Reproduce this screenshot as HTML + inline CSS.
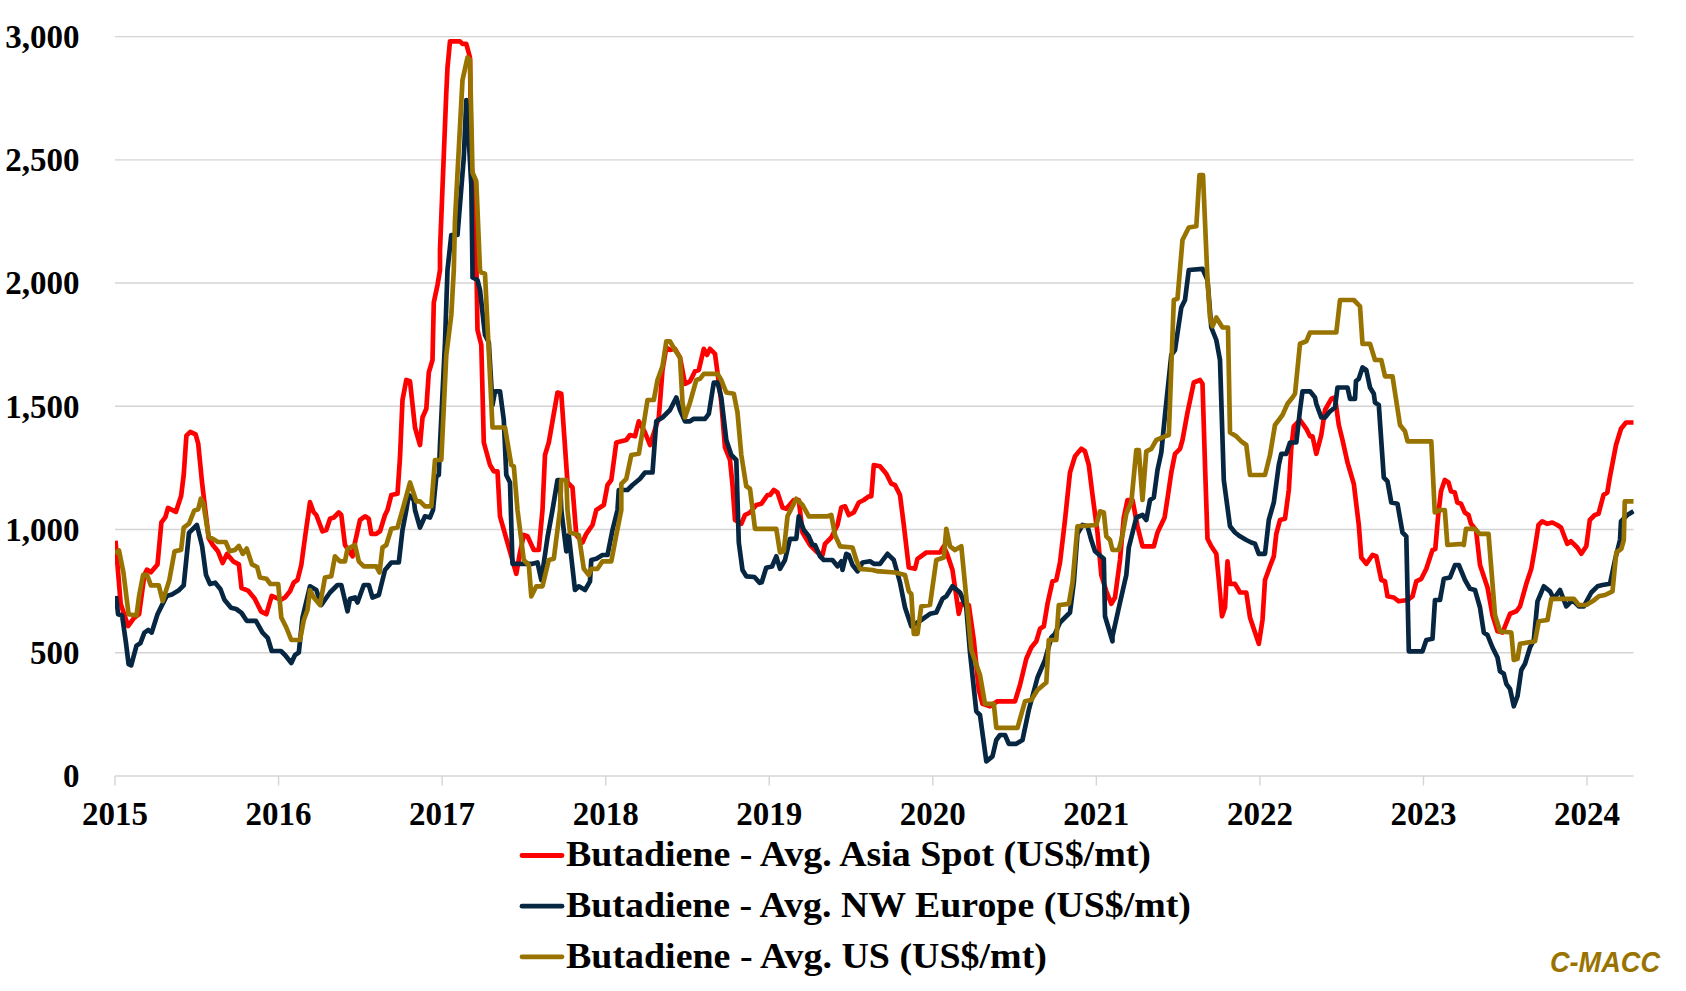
<!DOCTYPE html>
<html><head><meta charset="utf-8"><style>
html,body{margin:0;padding:0;background:#fff;width:1686px;height:991px;overflow:hidden}
svg{display:block}
.t{font-family:"Liberation Serif",serif;font-weight:bold;fill:#000}
</style></head><body>
<svg width="1686" height="991" viewBox="0 0 1686 991">
<rect width="1686" height="991" fill="#fff"/>
<g stroke="#D4D4D4" stroke-width="1.4" fill="none"><line x1="115" x2="1633.5" y1="652.77" y2="652.77"/><line x1="115" x2="1633.5" y1="529.53" y2="529.53"/><line x1="115" x2="1633.5" y1="406.30" y2="406.30"/><line x1="115" x2="1633.5" y1="283.07" y2="283.07"/><line x1="115" x2="1633.5" y1="159.83" y2="159.83"/><line x1="115" x2="1633.5" y1="36.60" y2="36.60"/><line x1="115" x2="1633.5" y1="776" y2="776"/><line x1="115.00" x2="115.00" y1="776" y2="785.5"/><line x1="278.56" x2="278.56" y1="776" y2="785.5"/><line x1="442.12" x2="442.12" y1="776" y2="785.5"/><line x1="605.68" x2="605.68" y1="776" y2="785.5"/><line x1="769.24" x2="769.24" y1="776" y2="785.5"/><line x1="932.80" x2="932.80" y1="776" y2="785.5"/><line x1="1096.36" x2="1096.36" y1="776" y2="785.5"/><line x1="1259.92" x2="1259.92" y1="776" y2="785.5"/><line x1="1423.48" x2="1423.48" y1="776" y2="785.5"/><line x1="1587.04" x2="1587.04" y1="776" y2="785.5"/></g>
<g class="t" font-size="33"><text x="79.5" y="787.20" text-anchor="end">0</text><text x="79.5" y="663.97" text-anchor="end">500</text><text x="79.5" y="540.73" text-anchor="end">1,000</text><text x="79.5" y="417.50" text-anchor="end">1,500</text><text x="79.5" y="294.27" text-anchor="end">2,000</text><text x="79.5" y="171.03" text-anchor="end">2,500</text><text x="79.5" y="47.80" text-anchor="end">3,000</text><text x="115.00" y="824.6" text-anchor="middle">2015</text><text x="278.56" y="824.6" text-anchor="middle">2016</text><text x="442.12" y="824.6" text-anchor="middle">2017</text><text x="605.68" y="824.6" text-anchor="middle">2018</text><text x="769.24" y="824.6" text-anchor="middle">2019</text><text x="932.80" y="824.6" text-anchor="middle">2020</text><text x="1096.36" y="824.6" text-anchor="middle">2021</text><text x="1259.92" y="824.6" text-anchor="middle">2022</text><text x="1423.48" y="824.6" text-anchor="middle">2023</text><text x="1587.04" y="824.6" text-anchor="middle">2024</text></g>
<defs><clipPath id="pc"><rect x="115" y="0" width="1519.5" height="800"/></clipPath></defs>
<g fill="none" stroke-width="4.7" stroke-linejoin="round" stroke-linecap="butt" clip-path="url(#pc)">
<polyline stroke="#FF0000" points="115.5,540.7 120.7,603.7 128.1,626.0 133.9,618.2 139.1,614.2 144.4,574.9 147.0,569.6 150.9,572.2 157.5,564.4 161.4,522.4 165.4,517.1 168.0,507.9 175.9,511.9 181.1,496.1 183.7,475.1 186.4,435.7 190.3,431.8 195.6,434.4 198.2,443.6 202.1,483.0 208.7,538.1 212.6,544.7 217.9,551.2 222.6,563.0 227.0,553.9 233.6,561.7 238.9,564.4 241.5,588.0 248.0,590.6 254.6,598.5 261.2,611.6 266.4,614.2 271.7,595.9 280.9,599.8 285.0,597.5 290.0,591.3 293.8,582.5 297.5,580.0 301.3,565.0 305.0,537.5 310.0,502.2 313.5,512.0 316.3,515.0 322.5,531.3 326.3,530.0 330.0,518.8 333.8,517.5 338.8,512.5 341.3,515.0 345.0,545.0 352.5,556.3 355.0,542.5 360.0,520.0 365.0,516.3 368.8,518.8 371.3,533.8 376.3,533.8 380.0,531.3 385.0,515.0 387.5,510.0 391.3,495.0 397.5,493.8 400.0,457.5 402.5,400.0 406.3,380.0 410.0,381.3 415.0,427.5 420.0,445.0 422.5,417.5 426.3,408.8 428.8,372.5 432.5,360.0 433.8,302.5 437.5,285.0 440.0,270.0 440.0,250.0 443.8,155.0 446.3,92.5 447.5,67.5 450.0,41.3 460.0,41.3 462.5,43.8 466.3,43.8 470.0,57.5 471.3,165.0 473.8,185.0 476.3,257.5 477.5,330.0 481.3,345.0 483.8,442.5 490.0,465.0 493.8,471.3 497.5,471.3 500.0,516.3 516.3,573.8 520.0,552.5 523.8,535.0 527.5,536.3 533.8,550.0 538.8,550.0 542.5,510.0 545.0,455.0 548.8,442.5 557.5,392.5 561.3,393.8 567.5,482.5 572.5,487.5 576.3,535.0 582.5,542.5 586.3,533.8 592.5,525.0 596.3,510.0 603.8,505.0 607.5,485.0 611.3,480.0 616.3,442.5 621.3,441.3 626.3,440.0 630.0,435.0 635.0,436.3 638.8,421.3 645.0,432.5 650.0,445.0 658.8,417.5 662.5,370.0 666.3,347.5 670.0,350.0 675.0,348.8 680.0,357.5 685.0,383.8 690.0,381.3 695.0,371.3 698.8,370.0 703.8,348.8 707.0,355.0 710.0,348.8 715.0,353.8 718.8,382.5 721.3,402.5 725.0,447.5 730.0,460.0 732.5,485.0 735.0,520.0 741.3,523.8 745.0,515.0 750.0,512.5 756.3,505.0 761.3,503.8 767.5,495.0 770.0,495.0 773.8,490.0 777.5,492.5 782.5,507.5 786.3,508.8 793.8,500.0 798.8,500.0 802.5,532.5 810.0,545.0 817.5,552.5 822.5,555.0 825.0,543.8 831.3,537.5 837.5,525.0 841.3,507.5 845.0,506.3 848.8,515.0 853.8,512.5 858.8,502.5 863.8,500.0 868.8,496.3 871.3,496.3 873.8,465.0 880.0,466.3 886.3,473.8 891.3,483.8 895.0,485.0 900.0,495.0 903.8,525.0 908.8,567.5 915.0,568.8 917.5,558.8 926.3,552.5 940.0,552.5 943.8,546.3 947.5,555.0 952.5,570.0 955.0,587.5 958.8,613.8 961.3,603.8 968.8,605.0 973.8,640.0 978.8,690.0 982.5,703.8 990.0,706.3 997.5,701.3 1015.0,701.3 1020.0,685.0 1026.3,658.8 1031.3,647.5 1036.3,641.3 1040.0,628.8 1043.8,626.3 1047.5,603.8 1052.5,581.3 1056.3,580.0 1060.0,562.5 1065.0,520.0 1070.0,472.5 1075.0,456.3 1081.3,448.8 1085.0,451.3 1088.8,465.0 1092.5,495.0 1097.5,532.5 1101.3,575.0 1106.3,591.3 1111.3,603.8 1115.0,597.5 1120.0,560.0 1123.8,517.5 1127.5,500.0 1132.5,500.0 1137.5,526.3 1142.5,546.3 1153.8,546.3 1157.5,532.5 1164.6,517.5 1167.4,499.2 1171.3,472.5 1175.0,453.8 1180.0,448.8 1182.5,440.0 1187.5,412.5 1193.8,382.5 1200.0,380.0 1202.5,383.8 1205.0,465.0 1207.5,538.8 1211.3,546.3 1216.3,553.8 1218.8,580.0 1222.0,616.3 1225.0,607.5 1227.5,561.3 1230.0,583.8 1235.0,583.8 1240.0,592.5 1246.3,592.5 1250.0,617.5 1258.8,643.8 1262.5,620.0 1265.0,580.0 1270.0,566.3 1273.8,556.3 1276.3,533.8 1280.0,520.0 1285.0,518.8 1288.8,490.0 1291.3,447.5 1293.8,426.3 1300.0,420.0 1306.3,428.8 1310.0,436.3 1312.5,436.3 1316.3,453.8 1321.3,435.0 1325.0,410.0 1331.3,398.8 1335.0,397.5 1338.8,425.0 1342.5,440.0 1347.5,462.5 1353.8,483.8 1358.8,525.0 1361.3,557.5 1366.3,563.8 1372.5,555.0 1376.3,556.3 1381.3,580.0 1385.0,581.3 1387.5,596.3 1393.8,597.5 1398.8,601.3 1407.5,600.0 1412.5,596.3 1416.3,581.3 1421.3,578.8 1426.3,568.8 1430.0,557.5 1432.5,550.0 1435.3,549.0 1438.2,515.3 1441.0,491.3 1444.8,480.0 1448.5,482.5 1451.0,491.3 1454.8,492.5 1457.3,502.5 1461.0,503.8 1464.8,512.5 1468.5,515.0 1471.0,523.8 1476.0,530.0 1480.0,565.0 1487.5,587.5 1492.5,615.0 1497.5,631.3 1502.5,632.5 1510.0,613.8 1516.3,611.3 1520.0,606.3 1526.3,583.8 1531.3,568.8 1535.0,547.5 1538.5,525.0 1542.3,521.3 1547.3,523.8 1552.3,522.5 1557.3,525.0 1561.0,527.5 1564.8,537.5 1567.3,543.8 1571.0,541.3 1577.3,547.5 1581.3,553.8 1586.3,546.3 1589.8,520.0 1594.8,515.0 1598.5,513.8 1603.5,495.0 1607.3,492.5 1609.8,477.5 1616.0,445.0 1621.0,428.8 1626.0,422.5 1633.5,422.5"/>
<polyline stroke="#062641" points="116.0,595.9 118.1,614.2 122.1,615.5 126.0,643.1 128.6,664.1 131.2,665.4 136.5,645.7 140.4,643.1 144.4,632.6 148.3,630.0 151.7,632.6 157.5,614.2 161.4,606.4 166.7,595.9 171.9,594.5 178.5,590.6 183.7,585.4 189.0,532.9 196.9,525.0 202.1,546.0 206.0,574.9 210.0,584.0 215.2,582.7 220.5,589.3 224.4,599.8 231.0,607.7 236.2,609.0 241.5,612.9 246.7,620.8 255.9,620.8 262.5,632.6 267.7,637.8 271.7,651.0 280.9,651.0 285.0,655.0 291.3,663.0 295.0,655.0 298.8,652.5 302.5,617.5 310.0,586.3 316.3,590.0 321.3,605.0 330.0,592.5 337.5,585.0 341.3,585.0 347.5,611.3 350.0,598.8 355.0,597.5 357.5,602.5 363.8,585.0 368.8,585.0 372.5,597.5 378.8,595.0 385.0,570.0 391.3,562.5 398.8,562.5 402.5,530.0 406.3,510.0 408.8,495.0 413.8,500.0 415.0,510.0 420.0,527.5 425.0,516.3 430.0,517.5 433.0,510.0 436.3,476.3 438.8,475.0 440.0,445.0 445.0,342.5 447.5,270.0 451.3,235.0 457.5,235.0 463.8,157.5 466.3,100.0 468.8,140.0 471.3,185.0 472.5,270.0 472.5,277.5 477.5,280.0 480.0,290.0 485.0,335.0 488.8,342.5 492.5,405.0 495.0,391.3 500.0,391.3 503.8,420.0 506.3,475.0 510.0,482.5 512.5,563.8 522.5,563.8 532.5,563.8 537.5,562.5 541.3,580.0 547.5,537.5 552.5,510.0 557.5,480.0 560.0,480.0 561.3,510.0 566.3,551.3 568.8,535.0 575.0,590.0 578.8,586.3 585.0,590.0 590.0,581.3 591.3,560.0 596.3,558.8 602.5,555.0 607.5,555.0 612.5,530.0 617.5,510.0 618.8,490.0 627.5,490.0 632.5,485.0 640.0,478.8 645.0,472.5 652.5,472.5 656.3,421.3 662.5,417.5 670.0,410.0 676.3,397.5 680.0,410.0 685.0,421.3 690.0,421.3 693.8,418.8 705.0,418.8 708.8,413.8 713.8,382.5 717.5,382.5 721.3,397.5 726.3,440.0 731.3,455.0 736.3,460.0 738.8,542.5 742.5,570.0 746.3,576.3 754.4,577.0 759.7,582.9 761.7,582.2 766.2,567.8 772.0,566.5 776.3,556.3 780.0,568.8 785.0,560.0 790.0,538.8 796.3,538.8 798.8,516.3 803.8,530.0 808.8,536.3 812.5,545.0 815.0,545.0 820.0,556.3 823.8,560.0 832.5,560.0 837.5,566.3 841.3,561.3 842.5,570.0 846.3,553.8 848.8,555.0 852.5,565.0 857.5,571.3 862.5,562.5 870.0,561.3 873.8,563.8 880.0,563.8 887.5,553.8 893.8,560.0 900.0,582.5 905.0,607.5 911.3,626.3 921.3,620.0 930.0,613.8 936.3,612.5 942.5,598.8 946.3,596.3 952.5,586.3 960.0,592.5 966.3,607.5 970.0,652.5 976.3,711.3 980.0,715.0 986.3,761.3 992.5,756.3 996.3,740.0 1000.0,735.0 1005.0,735.0 1008.8,743.8 1016.3,743.8 1022.5,740.0 1028.8,710.0 1037.5,677.5 1045.0,660.0 1051.3,637.5 1055.0,633.8 1060.0,622.5 1070.0,612.5 1073.8,582.5 1077.5,533.8 1082.5,525.0 1087.5,526.3 1091.3,540.0 1095.0,551.3 1103.8,558.8 1105.0,616.3 1112.5,641.3 1112.5,636.3 1120.0,602.5 1126.3,575.0 1128.8,547.5 1136.3,517.5 1142.5,515.0 1146.3,520.0 1150.0,500.0 1153.8,497.5 1157.5,470.0 1161.3,452.5 1165.0,415.0 1171.3,355.0 1175.0,350.0 1181.3,307.5 1185.0,300.0 1188.8,270.0 1202.5,268.8 1207.5,280.0 1211.3,327.5 1216.3,340.0 1220.0,360.0 1223.8,480.0 1230.0,526.3 1235.0,532.5 1240.0,536.3 1246.3,540.0 1251.3,542.5 1255.0,543.8 1258.8,553.8 1265.0,553.8 1268.8,520.0 1273.8,502.5 1278.8,465.0 1281.3,453.8 1286.3,453.8 1290.0,442.5 1296.3,442.5 1300.0,410.0 1302.5,391.3 1310.0,391.3 1315.0,397.5 1316.3,403.8 1321.3,417.5 1325.0,417.5 1330.0,411.3 1335.0,407.5 1337.5,387.5 1347.5,387.5 1350.0,398.8 1355.0,398.8 1356.0,381.0 1358.8,378.8 1362.5,367.5 1366.3,370.0 1370.0,387.5 1373.8,393.8 1375.0,402.5 1378.8,405.0 1383.8,477.5 1387.5,481.3 1391.3,502.5 1397.5,503.8 1402.5,532.5 1406.3,536.3 1408.8,651.3 1422.5,651.3 1426.3,640.0 1432.5,638.8 1435.0,600.0 1440.0,600.0 1443.8,578.8 1450.0,577.5 1455.0,565.0 1458.8,565.0 1465.0,580.0 1470.0,588.8 1475.0,590.0 1480.0,607.5 1483.8,632.5 1487.5,635.0 1492.5,647.5 1497.5,657.5 1500.0,671.3 1503.8,673.8 1506.3,683.8 1510.0,688.8 1513.8,706.3 1517.5,696.3 1521.3,670.0 1525.0,663.8 1530.0,647.5 1533.8,640.0 1537.5,601.3 1543.8,586.3 1550.0,591.3 1553.8,598.8 1560.0,590.0 1566.3,606.3 1572.5,600.0 1578.8,606.3 1583.8,606.3 1591.3,592.5 1597.5,586.3 1602.5,585.0 1610.0,583.8 1615.0,560.0 1620.0,540.0 1621.0,521.3 1627.3,515.0 1633.5,511.3"/>
<polyline stroke="#997300" points="115.0,553.0 119.0,550.5 123.4,572.2 128.6,614.2 136.5,615.5 139.1,595.9 143.1,574.9 147.0,574.9 150.9,585.4 158.8,585.4 162.7,601.1 169.3,580.1 174.6,551.2 181.1,549.9 183.7,527.6 189.0,523.7 194.2,510.6 198.2,509.2 200.8,498.7 203.4,504.0 208.7,536.8 213.9,539.4 217.9,542.0 225.7,542.0 229.7,551.2 235.0,549.9 238.9,546.0 242.8,553.9 246.7,548.6 252.0,564.4 257.2,567.0 259.9,577.5 266.4,578.8 270.4,584.0 278.2,584.0 281.3,617.5 286.3,627.5 291.3,640.0 300.0,640.0 303.8,620.0 307.5,610.0 310.0,590.0 313.8,597.5 320.0,605.0 325.0,577.5 331.3,576.3 335.0,556.3 340.0,561.3 345.0,561.3 347.5,548.8 355.0,545.0 358.8,561.3 363.8,566.3 376.3,566.3 379.5,572.5 382.5,547.5 386.3,545.0 391.3,528.8 397.5,527.5 402.5,510.0 410.0,482.5 416.3,501.3 420.0,501.3 425.0,506.3 431.3,506.3 435.0,460.0 441.3,460.0 446.3,355.0 451.3,315.0 453.8,270.0 455.0,220.0 462.5,80.0 467.5,57.5 470.0,60.0 472.5,172.5 476.3,181.3 480.0,270.0 481.3,272.5 485.0,273.8 492.5,427.5 505.0,427.5 511.3,465.0 513.8,466.3 517.5,510.0 523.8,560.0 528.8,565.0 531.3,596.3 536.3,586.3 542.5,586.3 548.8,560.0 553.8,558.8 560.0,510.0 561.3,480.0 566.3,480.0 567.5,510.0 570.0,532.5 578.8,535.0 583.8,568.8 588.8,575.0 591.3,568.8 597.5,568.8 602.5,561.3 611.3,561.3 616.3,535.0 621.3,510.0 621.3,483.8 626.3,478.8 631.3,455.0 638.8,453.8 642.5,431.3 647.5,400.0 653.8,400.0 657.5,380.0 662.5,366.3 666.3,341.3 670.0,341.3 675.0,350.0 680.0,357.5 682.5,402.5 685.0,417.5 690.0,402.5 696.3,380.0 700.0,378.8 703.8,373.8 717.5,373.8 721.3,380.0 726.3,392.5 733.8,393.8 737.5,412.5 741.3,455.0 746.3,486.3 750.0,488.8 755.0,528.8 776.3,528.8 780.0,552.5 783.8,551.3 787.5,516.3 796.3,498.8 802.5,505.0 808.8,516.3 827.5,516.3 831.3,515.0 835.0,535.0 840.0,546.3 852.5,547.5 856.3,560.0 860.0,568.8 872.5,570.0 877.5,571.3 880.0,571.3 895.0,572.5 905.0,575.0 908.8,591.3 911.3,593.8 913.8,633.8 917.5,633.8 921.3,606.3 930.0,605.0 936.3,560.0 943.8,557.5 946.3,528.8 950.0,546.3 955.0,550.0 961.3,546.3 966.3,597.5 971.3,650.0 980.0,675.0 985.0,703.8 993.8,703.8 996.3,727.8 1017.5,727.8 1025.0,701.3 1031.3,700.0 1037.5,690.0 1046.3,682.5 1048.8,640.0 1056.3,640.0 1058.8,605.0 1060.0,605.0 1068.8,603.8 1072.5,582.5 1077.5,526.3 1096.3,525.0 1100.0,511.3 1103.8,512.5 1106.3,536.3 1110.0,540.0 1112.5,550.0 1118.8,550.0 1122.5,535.0 1126.3,513.8 1131.3,502.5 1136.3,450.0 1138.8,450.0 1142.5,500.0 1146.3,451.3 1151.3,448.8 1156.3,440.0 1165.0,436.3 1168.8,435.0 1173.8,300.0 1177.5,298.8 1182.5,240.0 1188.8,227.5 1196.3,226.3 1199.5,175.0 1203.0,175.0 1207.5,280.0 1210.0,317.5 1212.5,326.3 1216.3,317.5 1222.5,327.5 1228.0,327.5 1230.0,432.5 1236.3,436.3 1241.3,441.3 1246.3,445.0 1250.0,475.0 1265.0,475.0 1270.0,455.0 1275.0,425.0 1278.8,420.0 1282.5,415.0 1287.5,403.8 1292.5,397.5 1295.0,393.8 1300.0,343.8 1306.3,341.3 1310.0,332.5 1336.3,332.5 1340.0,300.0 1353.8,300.0 1360.0,306.3 1362.5,343.8 1370.0,343.8 1375.0,360.0 1381.3,360.0 1385.0,376.3 1392.5,376.3 1400.0,425.0 1405.0,431.3 1407.5,441.3 1431.3,441.3 1434.8,512.5 1439.8,510.0 1444.8,510.0 1447.3,543.8 1447.5,545.0 1462.3,543.8 1463.8,545.0 1466.0,528.8 1474.8,528.8 1479.8,533.8 1488.5,533.8 1495.0,615.0 1500.0,631.3 1511.3,632.5 1513.8,660.0 1517.5,658.8 1520.0,643.8 1535.0,641.3 1538.8,621.3 1547.5,620.0 1551.3,598.8 1573.8,598.8 1578.8,605.0 1586.3,605.0 1592.5,601.3 1598.8,596.3 1605.0,595.0 1612.5,591.3 1616.3,552.5 1621.3,548.8 1623.8,540.0 1624.8,501.3 1633.5,501.3"/>
</g>
<g stroke-width="4.8" stroke-linecap="round">
<line x1="522" x2="562" y1="855.5" y2="855.5" stroke="#FF0000"/>
<line x1="522" x2="562" y1="906.2" y2="906.2" stroke="#062641"/>
<line x1="522" x2="562" y1="956.8" y2="956.8" stroke="#997300"/>
</g>
<g class="t" font-size="36">
<text x="566" y="866.3" textLength="585" lengthAdjust="spacingAndGlyphs">Butadiene - Avg. Asia Spot (US$/mt)</text>
<text x="566" y="917" textLength="625" lengthAdjust="spacingAndGlyphs">Butadiene - Avg. NW Europe (US$/mt)</text>
<text x="566" y="967.6" textLength="481" lengthAdjust="spacingAndGlyphs">Butadiene - Avg. US (US$/mt)</text>
</g>
<text x="1550" y="972.3" font-family="Liberation Sans,sans-serif" font-weight="bold" font-style="italic" font-size="29.5" fill="#997300" textLength="110" lengthAdjust="spacingAndGlyphs">C-MACC</text>
</svg>
</body></html>
